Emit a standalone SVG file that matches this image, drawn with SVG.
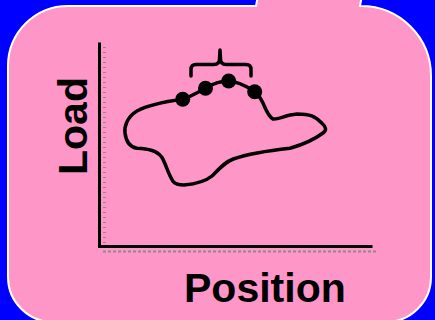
<svg xmlns="http://www.w3.org/2000/svg" width="435" height="320" viewBox="0 0 435 320">
  <style>
    .label { font-family: "Liberation Sans", Arial, sans-serif; font-weight: bold; font-size: 41px; fill: #000; }
    .axis { stroke: #000; stroke-width: 3; fill: none; stroke-linecap: square; }
    .axis-shadow { stroke: #8c8c8c; fill: none; }
    .curve { stroke: #000; stroke-width: 3.5; fill: none; stroke-linejoin: round; stroke-linecap: round; }
    .dot { fill: #000; }
  </style>
  <!-- backdrop -->
  <rect x="0" y="0" width="435" height="320" fill="#0000ff"/>

  <!-- callout panel -->
  <g id="panel">
    <path d="M 68,6 L 256,6 L 259,-10 L 363,-10 L 360,6 L 361,6 A 70 70 0 0 1 431,76 L 431,277 A 45 45 0 0 1 386,322 L 53,322 A 45 45 0 0 1 8,277 L 8,66 A 60 60 0 0 1 68,6 Z"
          fill="#ff96c8" stroke="#ffffff" stroke-width="2"/>
  </g>

  <!-- chart axes with dotted shadow -->
  <g id="axes">
    <path class="axis-shadow" stroke-width="3" stroke-dasharray="1 4" d="M 104.5,47 L 104.5,249"/>
    <path class="axis-shadow" stroke-width="2" stroke-dasharray="3 2" d="M 103,251.5 L 376,251.5"/>
    <path class="axis" d="M 99.5,44 L 99.5,246.5 L 371,246.5"/>
  </g>

  <!-- load/position loop -->
  <g id="loop">
    <path class="curve" d="M 182.7,99.3
      C 170,101 150,104 137,111
      C 127,117 124,127 125,133
      C 126,141 129,147 137,148.3
      C 148,149 156,150 161.7,157
      C 166,164 168,174 173.3,181.7
      C 176,185 180,185 184,185
      C 195,184 206,181 212,176
      C 220,168 225,162 233.3,159
      C 245,155 265,151 290,148.3
      C 305,144 315,139 323,133
      C 327,130 326,127 322,123.3
      C 315,116 310,114 297,114
      C 285,115 278,120 273,119
      C 268,116 266,110 263,103
      C 260,97 258,94 254.7,91.3
      C 246,86 236,81 228.7,81
      C 220,81 212,84 205.7,88.3
      C 198,92 190,97 182.7,99.3 Z"/>
  </g>

  <!-- sampled points -->
  <g id="points">
    <circle class="dot" cx="182.7" cy="99.3" r="7.5"/>
    <circle class="dot" cx="205.5" cy="88.3" r="7.5"/>
    <circle class="dot" cx="228.7" cy="81" r="7.5"/>
    <circle class="dot" cx="254.7" cy="91.8" r="7.5"/>
  </g>

  <!-- brace over the points -->
  <g id="brace">
    <path class="curve" stroke-width="3" d="M 191,76 L 191,69.5 Q 191,64.5 196,64.5 L 214,64.5 Q 219.5,64.5 219.5,59 L 220,50 L 220.5,59 Q 220.5,64.5 226,64.5 L 246,64.5 Q 251,64.5 251,69.5 L 251,76"/>
  </g>

  <!-- axis labels -->
  <g id="labels">
    <text class="label" transform="translate(87,175) rotate(-90)">Load</text>
    <text class="label" x="184" y="301.5">Position</text>
  </g>
</svg>
